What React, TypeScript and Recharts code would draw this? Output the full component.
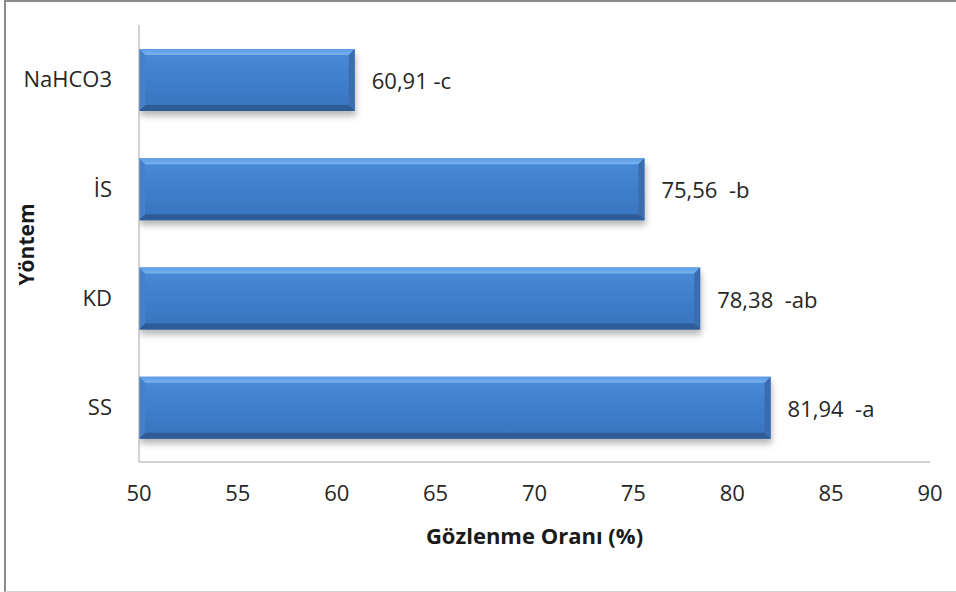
import React from "react";
import { BarChart, Bar, XAxis, YAxis, LabelList, Label } from "recharts";

const methods = ["NaHCO3", "İS", "KD", "SS"];
const rates = [60.91, 75.56, 78.38, 81.94];
const groups = ["c", "b", "ab", "a"];
const valueLabels = ["60,91 -c", "75,56  -b", "78,38  -ab", "81,94  -a"];
const xTicks = [50, 55, 60, 65, 70, 75, 80, 85, 90];

const data = methods.map((m, i) => ({
    method: m,
    rate: rates[i],
    group: groups[i],
    label: valueLabels[i]
}));

const FONT = "'Open Sans', sans-serif";

// bar drawn with a bevelled edge like the old Excel 3D style
const BevelBar = (props: any) => {
    const { x, y, width, height } = props;
    if (!width || width <= 0) return null;
    const b = 6;
    const r = x + width;
    const btm = y + height;
    return (
        <g filter="url(#barShadow)">
            <rect x={x} y={y} width={width} height={height} fill="url(#faceGrad)" />
            <polygon points={`${x},${y} ${r},${y} ${r - b},${y + b} ${x + b},${y + b}`} fill="url(#topGrad)" />
            <polygon points={`${r},${y} ${r},${btm} ${r - b},${btm - b} ${r - b},${y + b}`} fill="#3a6cae" />
            <polygon points={`${x},${btm} ${r},${btm} ${r - b},${btm - b} ${x + b},${btm - b}`} fill="#2f5b97" />
            <polygon points={`${x},${y} ${x + b},${y + b} ${x + b},${btm - b} ${x},${btm}`} fill="#4580c8" />
        </g>
    );
};

// keeps the double spaces of the labels
const ValueLabel = (props: any) => {
    const { x, y, width, height, value } = props;
    return (
        <text
            x={x + width + 17}
            y={y + height / 2}
            dominantBaseline="central"
            fontFamily={FONT}
            fontSize={22}
            fill="#262626"
            style={{ whiteSpace: "pre" }}
        >
            {value}
        </text>
    );
};

const YTitle = (props: any) => {
    const vb = props.viewBox || {};
    const cx = 26;
    const cy = vb.y + vb.height / 2 + 1;
    return (
        <text
            x={cx}
            y={cy}
            transform={`rotate(-90 ${cx} ${cy})`}
            textAnchor="middle"
            dominantBaseline="central"
            fontFamily={FONT}
            fontWeight="bold"
            fontSize={21}
            fill="#1a1a1a"
        >
            Yöntem
        </text>
    );
};

export default function App() {
    return (
        <div style={{ position: "absolute", left: 0, top: 0, width: 956, height: 592, overflow: "hidden", background: "#fff" }}>
            <div
                style={{
                    position: "absolute",
                    left: 4,
                    top: 0,
                    width: 980,
                    height: 589,
                    borderLeft: "2px solid #8c8c8c",
                    borderTop: "2px solid #8c8c8c",
                    borderBottom: "1px solid #d4d4d4"
                }}
            />
            <div style={{ position: "absolute", left: 0, top: 0 }}>
                <BarChart
                    width={956}
                    height={592}
                    data={data}
                    layout="vertical"
                    margin={{ top: 25, right: 26, left: 0, bottom: 70 }}
                    barSize={62}
                >
                    <defs>
                        <linearGradient id="faceGrad" x1="0" y1="0" x2="0" y2="1">
                            <stop offset="0%" stopColor="#4a8bd8" />
                            <stop offset="50%" stopColor="#3f7fcc" />
                            <stop offset="100%" stopColor="#3873bd" />
                        </linearGradient>
                        <linearGradient id="topGrad" x1="0" y1="0" x2="0" y2="1">
                            <stop offset="0%" stopColor="#5b9be2" />
                            <stop offset="100%" stopColor="#78b3f2" />
                        </linearGradient>
                        <filter id="barShadow" x="-5%" y="-10%" width="115%" height="140%">
                            <feDropShadow dx="1" dy="5" stdDeviation="3" floodColor="#000" floodOpacity="0.28" />
                        </filter>
                    </defs>
                    <XAxis
                        type="number"
                        dataKey="rate"
                        domain={[50, 90]}
                        ticks={xTicks}
                        allowDataOverflow
                        height={60}
                        axisLine={{ stroke: "#a6a6a6" }}
                        tickLine={false}
                        tickMargin={17}
                        tick={{ fontFamily: FONT, fontSize: 22, fill: "#262626" }}
                    >
                        <Label
                            value="Gözlenme Oranı (%)"
                            position="bottom"
                            offset={6}
                            style={{ fontFamily: FONT, fontSize: 22, fontWeight: "bold", fill: "#1a1a1a" }}
                        />
                    </XAxis>
                    <YAxis
                        type="category"
                        dataKey="method"
                        width={139}
                        axisLine={{ stroke: "#a6a6a6" }}
                        tickLine={false}
                        tickMargin={21}
                        tick={{ fontFamily: FONT, fontSize: 22, fill: "#262626" }}
                    >
                        <Label content={<YTitle />} />
                    </YAxis>
                    <Bar dataKey="rate" shape={<BevelBar />} isAnimationActive={false}>
                        <LabelList dataKey="label" content={<ValueLabel />} />
                    </Bar>
                </BarChart>
            </div>
        </div>
    );
}
